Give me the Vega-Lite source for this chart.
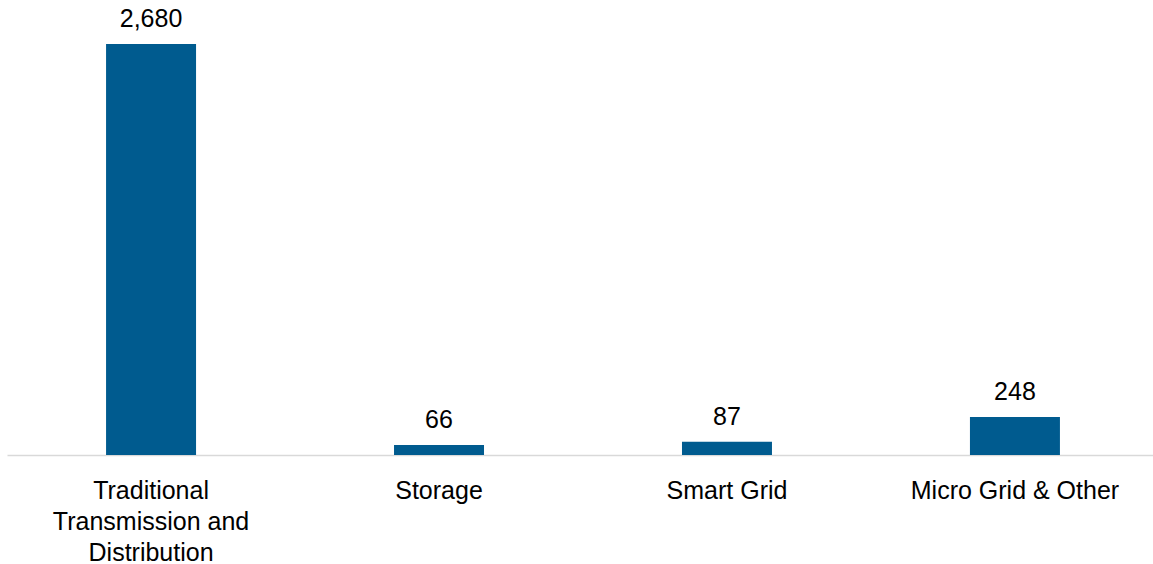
{
  "$schema": "https://vega.github.io/schema/vega-lite/v6.json",
  "width": 1152,
  "height": 455,
  "padding": {"left": 7, "top": 0, "right": 0, "bottom": 0},
  "autosize": {"type": "pad"},
  "background": "white",
  "config": {"view": {"stroke": null}, "font": "Liberation Sans"},
  "data": {"values": [
    {"category": "Traditional Transmission and Distribution", "value": 2680},
    {"category": "Storage", "value": 66},
    {"category": "Smart Grid", "value": 87},
    {"category": "Micro Grid & Other", "value": 248}
  ]},
  "encoding": {
    "x": {"field": "category", "type": "nominal", "sort": null,
      "scale": {"paddingInner": 0.6875, "paddingOuter": 0.344},
      "axis": {"title": null, "labelAngle": 0, "ticks": false, "domainColor": "#d9d9d9", "domainWidth": 1.5,
        "labelFont": "Liberation Sans", "labelFontSize": 25, "labelColor": "#000000", "labelPadding": 23, "labelLineHeight": 31, "labelBaseline": "top", "labelLimit": 0, "labelOverlap": false,
        "labelExpr": "datum.value == 'Traditional Transmission and Distribution' ? ['Traditional', 'Transmission and', 'Distribution'] : datum.label"}},
    "y": {"field": "value", "type": "quantitative", "scale": {"domain": [0, 2967], "nice": false}, "axis": null}
  },
  "layer": [
    {"mark": {"type": "bar", "color": "#005b8f"}},
    {"mark": {"type": "text", "baseline": "alphabetic", "dy": -17, "fontSize": 25, "color": "#000000", "font": "Liberation Sans"},
      "encoding": {"text": {"field": "value", "type": "quantitative", "format": ","}}}
  ]
}
